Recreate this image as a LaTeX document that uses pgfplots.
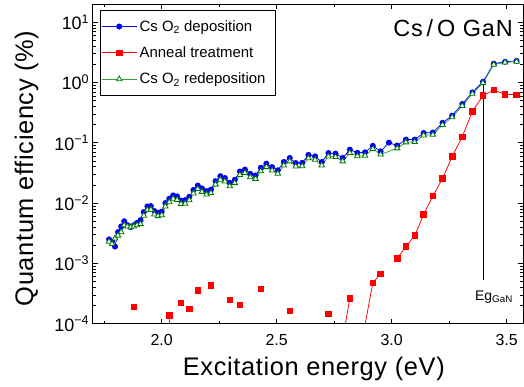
\documentclass[border=0pt]{standalone}
\usepackage{pgfplots}
\pgfplotsset{compat=1.18}
\usepackage{fontspec}
\setmainfont{Liberation Sans}
\definecolor{qblue}{RGB}{0,0,255}
\definecolor{qred}{RGB}{255,0,0}
\definecolor{qgreen}{RGB}{50,160,50}
\definecolor{qgreenm}{RGB}{0,120,0}
\begin{document}
\begin{tikzpicture}
\useasboundingbox (-92.7bp,-63.3bp) rectangle (431.3bp,323.7bp);
\begin{axis}[
  at={(0,0)}, anchor=south west,
  scale only axis, width=430.3bp, height=319.7bp,
  xmin=1.7, xmax=3.571, ymode=log, ymin=1e-4, ymax=20,
  axis line style={line width=0.8bp},
  every tick/.style={black, line width=0.6bp},
  tick align=inside,
  major tick length=5bp, minor tick length=3bp,
  xtick={2,2.5,3,3.5}, xticklabels={2.0,2.5,3.0,3.5},
  minor xtick={1.75,2.25,2.75,3.25},
  ytick={1e-4,1e-3,1e-2,1e-1,1,10},
  yticklabels={10\textsuperscript{−4},10\textsuperscript{−3},10\textsuperscript{−2},10\textsuperscript{−1},10\textsuperscript{0},10\textsuperscript{1}},
  minor ytick={2e-4,3e-4,4e-4,5e-4,6e-4,7e-4,8e-4,9e-4,
    2e-3,3e-3,4e-3,5e-3,6e-3,7e-3,8e-3,9e-3,
    2e-2,3e-2,4e-2,5e-2,6e-2,7e-2,8e-2,9e-2,
    2e-1,3e-1,4e-1,5e-1,6e-1,7e-1,8e-1,9e-1,
    2,3,4,5,6,7,8,9,20},
  xticklabel style={font=\fontsize{16}{19}\selectfont, yshift=-7bp},
  yticklabel style={font=\fontsize{18}{21}\selectfont},
  xlabel={Excitation energy (eV)},
  ylabel={Quantum efficiency (\%)},
  xlabel style={at={(axis description cs:0.5139,-0.1605)}, anchor=base, font=\fontsize{25.5}{30}\selectfont\addfontfeature{LetterSpace=2.5}},
  ylabel style={at={(axis description cs:-0.1387,0.4856)}, anchor=base, font=\fontsize{25.5}{30}\selectfont\addfontfeature{LetterSpace=2.5}},
  unbounded coords=jump,
  legend image code/.code={\draw[mark repeat=2,mark phase=2,#1] plot coordinates {(0bp,0bp) (17.5bp,0bp) (35bp,0bp)};},
  legend style={at={(axis description cs:0.017,0.9812)}, anchor=north west,
    font=\fontsize{15}{18}\selectfont, draw=black, line width=0.7bp,
    inner xsep=1bp, inner ysep=9bp, row sep=12bp,
    cells={anchor=west}, nodes={inner xsep=2.5bp, inner ysep=1bp}},
  legend cell align=left,
]
\addplot[color=qblue, line width=0.75bp, mark=*, mark size=2.6bp] table {
1.771 2.5e-3
1.784 2.3e-3
1.797 1.9e-3
1.810 3.3e-3
1.824 4.1e-3
1.837 5.0e-3
1.851 4.3e-3
1.865 4.0e-3
1.879 4.3e-3
1.893 4.7e-3
1.908 5.2e-3
1.922 7.1e-3
1.938 8.8e-3
1.953 8.9e-3
1.968 7.4e-3
1.984 6.9e-3
2.000 7.2e-3
2.016 1.00e-2
2.033 1.18e-2
2.050 1.34e-2
2.067 1.29e-2
2.084 1.10e-2
2.102 1.12e-2
2.120 1.27e-2
2.138 1.65e-2
2.157 1.95e-2
2.175 1.75e-2
2.195 1.58e-2
2.214 1.67e-2
2.234 2.31e-2
2.255 2.79e-2
2.275 2.60e-2
2.296 2.17e-2
2.318 2.44e-2
2.340 3.34e-2
2.362 3.60e-2
2.385 3.06e-2
2.408 2.87e-2
2.431 3.85e-2
2.455 4.50e-2
2.480 3.95e-2
2.505 3.50e-2
2.531 4.80e-2
2.557 5.60e-2
2.583 4.60e-2
2.611 4.65e-2
2.638 6.30e-2
2.667 5.95e-2
2.696 4.80e-2
2.725 6.75e-2
2.756 6.60e-2
2.787 5.60e-2
2.818 7.70e-2
2.851 6.80e-2
2.884 6.95e-2
2.918 8.90e-2
2.952 7.20e-2
2.988 1.005e-1
3.024 9.00e-2
3.062 1.13e-1
3.100 1.13e-1
3.139 1.45e-1
3.179 1.48e-1
3.221 2.14e-1
3.263 2.82e-1
3.307 4.40e-1
3.351 6.84e-1
3.397 1.03
3.444 2.05
3.493 2.20
3.543 2.28
};
\addlegendentry{Cs O\textsubscript{2} deposition}
\addplot[color=qred, line width=0.75bp, mark=square*, mark size=2.8bp] table {
1.879 1.89e-4
1.930 nan
2.033 1.39e-4
2.050 1e-8
2.067 nan
2.084 2.22e-4
2.102 nan
2.120 1.75e-4
2.138 nan
2.157 3.56e-4
2.185 nan
2.214 4.37e-4
2.255 nan
2.296 2.47e-4
2.318 nan
2.340 2.06e-4
2.385 nan
2.431 3.79e-4
2.490 nan
2.557 1.62e-4
2.640 nan
2.725 1.45e-4
2.756 nan
2.787 5.5e-5
2.818 2.63e-4
2.851 nan
2.884 9.5e-5
2.918 4.76e-4
2.952 6.70e-4
2.988 nan
3.024 1.22e-3
3.062 1.90e-3
3.100 2.89e-3
3.139 6.45e-3
3.179 1.31e-2
3.221 2.56e-2
3.263 5.92e-2
3.307 1.26e-1
3.351 3.32e-1
3.397 6.04e-1
3.444 7.48e-1
3.493 6.34e-1
3.543 6.26e-1
};
\addlegendentry{Anneal treatment}
\addplot[color=qgreen, line width=0.75bp, mark=triangle*, mark size=3.2bp, mark options={draw=qgreenm, fill=white, line width=0.8bp}] table {
1.771 2.3e-3
1.784 2.1e-3
1.797 2.6e-3
1.810 2.9e-3
1.824 3.3e-3
1.837 4.3e-3
1.851 4.1e-3
1.865 4.0e-3
1.879 4.1e-3
1.893 4.3e-3
1.908 4.5e-3
1.922 6.2e-3
1.938 7.7e-3
1.953 7.8e-3
1.968 6.5e-3
1.984 6.1e-3
2.000 6.3e-3
2.016 8.8e-3
2.033 1.04e-2
2.050 1.18e-2
2.067 1.13e-2
2.084 9.7e-3
2.102 9.8e-3
2.120 1.12e-2
2.138 1.45e-2
2.157 1.72e-2
2.175 1.54e-2
2.195 1.39e-2
2.214 1.47e-2
2.234 2.03e-2
2.255 2.45e-2
2.275 2.29e-2
2.296 1.91e-2
2.318 2.15e-2
2.340 2.94e-2
2.362 3.17e-2
2.385 2.69e-2
2.408 2.53e-2
2.431 3.39e-2
2.455 3.96e-2
2.480 3.48e-2
2.505 3.08e-2
2.531 4.22e-2
2.557 4.93e-2
2.583 4.05e-2
2.611 4.09e-2
2.638 5.54e-2
2.667 5.24e-2
2.696 4.22e-2
2.725 5.94e-2
2.756 5.81e-2
2.787 4.93e-2
2.818 6.78e-2
2.851 6.00e-2
2.884 6.10e-2
2.918 7.90e-2
2.952 6.40e-2
3.024 8.10e-2
3.062 1.02e-1
3.100 1.03e-1
3.139 1.33e-1
3.179 1.36e-1
3.221 1.98e-1
3.263 2.65e-1
3.307 4.10e-1
3.351 6.50e-1
3.397 9.80e-1
3.444 1.98
3.493 2.15
3.543 2.22
};
\addlegendentry{Cs O\textsubscript{2} redeposition\hspace*{6bp}}
\draw[black, line width=0.8bp] (axis cs:3.397,1.0) -- (axis cs:3.397,5.3e-4);
\node[anchor=north west, inner sep=0pt, font=\fontsize{14}{16}\selectfont] at ([xshift=-8bp,yshift=-11bp]axis cs:3.397,5.3e-4) {Eg\textsubscript{GaN}};
\node[anchor=north east, inner sep=0pt, font=\fontsize{23.5}{28}\selectfont\addfontfeature{LetterSpace=4}] at (axis description cs:0.9768,0.9531) {Cs\,/\,O GaN};
\end{axis}
\end{tikzpicture}
\end{document}
